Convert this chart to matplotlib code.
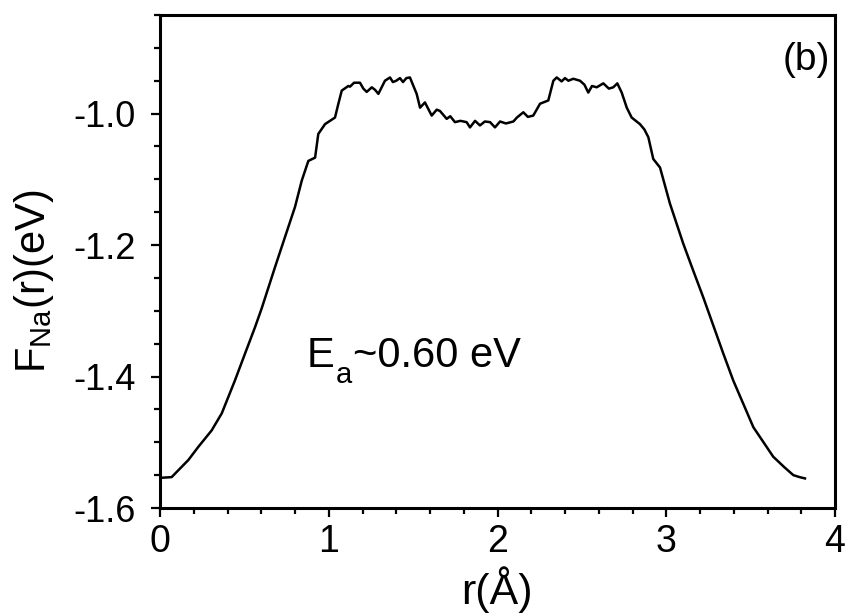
import matplotlib
matplotlib.use("Agg")
import matplotlib.pyplot as plt
from matplotlib.ticker import MultipleLocator
from matplotlib.transforms import offset_copy

plt.rcParams["font.family"] = ["Liberation Sans", "DejaVu Sans"]
plt.rcParams["mathtext.fontset"] = "custom"
plt.rcParams["mathtext.rm"] = "Liberation Sans"
plt.rcParams["mathtext.it"] = "Liberation Sans"

# free-energy profile: r in Angstrom, F_Na in eV
r_vals = [
    0.000, 0.010, 0.069, 0.168, 0.227, 0.306, 0.366, 0.444, 0.504, 0.563,
    0.603, 0.681, 0.721, 0.800, 0.840, 0.879, 0.919, 0.938, 0.978, 1.037,
    1.057, 1.077, 1.116, 1.126, 1.150, 1.185, 1.205, 1.225, 1.255, 1.275,
    1.294, 1.333, 1.363, 1.380, 1.400, 1.422, 1.440, 1.460, 1.481, 1.521,
    1.541, 1.570, 1.610, 1.640, 1.659, 1.699, 1.720, 1.748, 1.780, 1.817,
    1.837, 1.867, 1.896, 1.925, 1.956, 1.985, 2.015, 2.050, 2.094, 2.115,
    2.153, 2.180, 2.212, 2.252, 2.301, 2.331, 2.351, 2.380, 2.400, 2.420,
    2.449, 2.489, 2.515, 2.538, 2.560, 2.588, 2.627, 2.660, 2.686, 2.710,
    2.736, 2.766, 2.795, 2.844, 2.870, 2.894, 2.923, 2.963, 3.022, 3.101,
    3.160, 3.220, 3.338, 3.397, 3.516, 3.634, 3.700, 3.753, 3.790, 3.822,
]
f_vals = [
    -1.556, -1.554, -1.553, -1.527, -1.507, -1.482, -1.456, -1.406, -1.365, -1.325,
    -1.296, -1.234, -1.203, -1.142, -1.102, -1.072, -1.067, -1.031, -1.016, -1.006,
    -0.985, -0.965, -0.958, -0.959, -0.953, -0.953, -0.962, -0.967, -0.960, -0.964,
    -0.970, -0.950, -0.945, -0.952, -0.950, -0.946, -0.952, -0.946, -0.945, -0.970,
    -0.991, -0.983, -1.003, -0.994, -0.996, -1.008, -1.004, -1.013, -1.011, -1.013,
    -1.021, -1.011, -1.018, -1.012, -1.013, -1.021, -1.012, -1.015, -1.012, -1.006,
    -0.998, -1.005, -1.003, -0.985, -0.980, -0.950, -0.945, -0.951, -0.946, -0.950,
    -0.947, -0.950, -0.956, -0.968, -0.958, -0.960, -0.954, -0.962, -0.960, -0.954,
    -0.968, -0.991, -1.006, -1.016, -1.024, -1.036, -1.069, -1.082, -1.137, -1.198,
    -1.239, -1.280, -1.365, -1.406, -1.477, -1.522, -1.538, -1.550, -1.553, -1.555,
]

x_ticks = [0, 1, 2, 3, 4]
y_ticks = [-1.6, -1.4, -1.2, -1.0]
y_tick_labels = ["-1.6", "-1.4", "-1.2", "-1.0"]

fig = plt.figure(figsize=(8.5, 6.14), dpi=100)
ax = fig.add_axes([160 / 850, 1 - 508 / 614, 675 / 850, 493 / 614])

ax.plot(r_vals, f_vals, color="black", linewidth=1.8)

ax.set_xlim(0, 4)
ax.set_ylim(-1.6, -0.85)
ax.set_xticks(x_ticks)
ax.set_yticks(y_ticks)
ax.set_yticklabels(y_tick_labels)
ax.xaxis.set_minor_locator(MultipleLocator(0.2))
ax.yaxis.set_minor_locator(MultipleLocator(0.05))

for sp in ax.spines.values():
    sp.set_linewidth(2.2)
ax.tick_params(which="both", direction="out", top=False, right=False, width=1.6)
ax.tick_params(which="major", length=6.5)
ax.tick_params(which="minor", length=4.5)
ax.tick_params(axis="x", which="major", labelsize=27, pad=5)
ax.tick_params(axis="y", which="major", labelsize=26, pad=11)

fig.text(497 / 850, 1 - 590 / 614, "r(Å)", fontsize=31, ha="center", va="center")
fig.text(0.040, 1 - 281 / 614, r"F$_\mathregular{Na}$(r)(eV)", fontsize=30,
         rotation=90, ha="center", va="center")

# E_a label built from pieces so the subscript sits low like the original
renderer = fig.canvas.get_renderer()
t_e = ax.text(0.871, -1.386, "E", fontsize=30, ha="left", va="baseline")
w_e = t_e.get_window_extent(renderer).width
t_a = ax.text(0.871, -1.386, "a", fontsize=21, ha="left", va="baseline",
              transform=offset_copy(ax.transData, fig, x=w_e + 1, y=-16, units="dots"))
w_a = t_a.get_window_extent(renderer).width
ax.text(0.871, -1.386, "~0.60 eV", fontsize=30, ha="left", va="baseline",
        transform=offset_copy(ax.transData, fig, x=w_e + w_a + 2, y=0, units="dots"))

ax.text(0.992, 0.945, "(b)", fontsize=28, ha="right", va="top",
        transform=ax.transAxes)

fig.savefig("out.png", dpi=100)
